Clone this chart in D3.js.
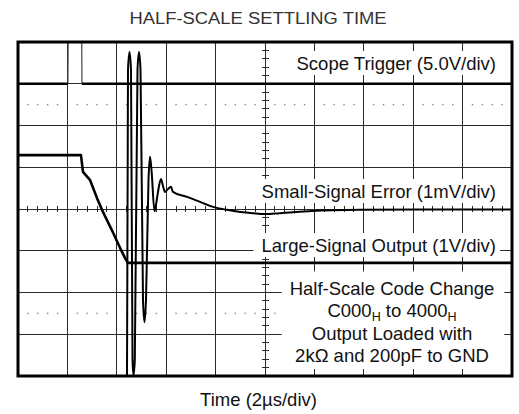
<!DOCTYPE html>
<head>
<meta charset="utf-8" />
<script src="https://cdn.jsdelivr.net/npm/d3@7/dist/d3.min.js"></script>
<style>
body { margin: 0; background: #fff; }
svg { display: block; }
text { font-family: "Liberation Sans", Arial, Helvetica, sans-serif; fill: #111; }
.grid line { stroke: #2a2a2a; stroke-width: 1px; shape-rendering: crispEdges; }
.trace { fill: none; stroke: #000; stroke-width: 2.6px; stroke-linejoin: round; }
</style>
</head>
<body>
<script>
// time in us (2us/div), level in scope divisions
var trigTime  = [0, 2.02, 2.03, 2.58, 2.59, 20];
var trigLevel = [3.0, 3.0, 4.0, 4.0, 3.0, 3.0];

var outTime  = [0, 2.55, 2.63, 2.92, 3.20, 3.44, 3.85, 4.13, 4.33, 4.45, 20];
var outLevel = [1.29, 1.29, 0.89, 0.69, 0.26, -0.07, -0.57, -0.93, -1.17, -1.29, -1.29];

var errTime  = [4.41, 4.453, 4.514, 4.575, 4.636, 4.676, 4.729, 4.838, 4.899, 4.960,
                5.061, 5.121, 5.182, 5.283, 5.344, 5.405, 5.526, 5.587, 5.668, 5.789,
                5.870, 5.951, 6.073, 6.194, 6.275, 6.842, 7.368, 7.895, 8.462, 9.008,
                9.514, 10.0, 10.6, 11.9, 13.85, 16.28, 20];
var errLevel = [-4.6, 3.33, 3.76, 3.33, -3.62, -3.98, -3.62, 3.33, 3.76, 3.33,
                -2.18, -2.71, -2.18, 0.69, 1.25, 0.93, -0.05, 0.10, 0.41, 0.72,
                0.55, 0.41, 0.48, 0.53, 0.41, 0.29, 0.17, 0.05, -0.02, -0.07,
                -0.10, -0.12, -0.10, -0.05, -0.02, -0.01, -0.01];

var traceLabels = ["Scope Trigger (5.0V/div)", "Small-Signal Error (1mV/div)", "Large-Signal Output (1V/div)"];
var noteLines = ["Half-Scale Code Change", "C000|H| to 4000|H", "Output Loaded with", "2k\u03A9 and 200pF to GND"];
var title = "HALF-SCALE SETTLING TIME";
var xTitle = "Time (2\u00B5s/div)";

var width = 519, height = 414;
var x = d3.scaleLinear().domain([0, 20]).range([18, 512]);
var y = d3.scaleLinear().domain([-4, 4]).range([376, 42]);

var svg = d3.select("body").append("svg")
	.attr("width", width)
	.attr("height", height);

svg.append("text")
	.attr("transform", "translate(258,24) scale(1,0.86)")
	.attr("text-anchor", "middle")
	.style("font-size", "18.4px")
	.style("fill", "#333")
	.text(title);

svg.append("text")
	.attr("x", 258.5).attr("y", 406)
	.attr("text-anchor", "middle")
	.style("font-size", "18.5px")
	.text(xTitle);

svg.append("defs").append("clipPath").attr("id", "plot")
	.append("rect")
	.attr("x", x(0)).attr("y", y(4))
	.attr("width", x(20) - x(0)).attr("height", y(-4) - y(4));

/* ------- GRID ------- */
var grid = svg.append("g").attr("class", "grid");
grid.selectAll("line.v")
	.data(d3.range(2, 20, 2))
	.enter().append("line")
	.attr("x1", function(d) { return x(d); }).attr("x2", function(d) { return x(d); })
	.attr("y1", y(4)).attr("y2", y(-4));
grid.selectAll("line.h")
	.data(d3.range(-3, 4, 1))
	.enter().append("line")
	.attr("x1", x(0)).attr("x2", x(20))
	.attr("y1", function(d) { return y(d); }).attr("y2", function(d) { return y(d); });

// minor ticks on the centre cross
var xMinor = d3.range(0, 20.01, 0.4).filter(function(d) { return Math.abs(d % 2) > 0.01 && Math.abs(d % 2 - 2) > 0.01; });
var yMinor = d3.range(-4, 4.01, 0.2).filter(function(d) { return Math.abs(d - Math.round(d)) > 0.01; });
grid.selectAll("line.xt")
	.data(xMinor)
	.enter().append("line")
	.attr("x1", function(d) { return x(d); }).attr("x2", function(d) { return x(d); })
	.attr("y1", y(0) - 3).attr("y2", y(0) + 3);
grid.selectAll("line.yt")
	.data(yMinor)
	.enter().append("line")
	.attr("x1", x(10) - 3.5).attr("x2", x(10) + 3.5)
	.attr("y1", function(d) { return y(d); }).attr("y2", function(d) { return y(d); });

// dotted rows at +/-2.5 div
var dots = [];
[2.5, -2.5].forEach(function(lv) {
	xMinor.forEach(function(t) { dots.push([t, lv]); });
});
svg.append("g").selectAll("rect")
	.data(dots)
	.enter().append("rect")
	.attr("x", function(d) { return x(d[0]) - 0.7; })
	.attr("y", function(d) { return y(d[1]) - 0.7; })
	.attr("width", 1.4).attr("height", 1.4)
	.style("fill", "#888");

/* ------- LABELS (white boxes hide the grid) ------- */
var labelY = [70, 198, 252];
var labels = svg.append("g");
traceLabels.forEach(function(s, i) {
	var g = labels.append("g");
	var bg = g.append("rect").style("fill", "#fff");
	var t = g.append("text")
		.attr("x", 496).attr("y", labelY[i])
		.attr("text-anchor", "end")
		.style("font-size", "18.5px")
		.text(s);
	var b = t.node().getBBox();
	bg.attr("x", b.x - 8).attr("y", b.y - 2).attr("width", b.width + 12).attr("height", b.height + 3);
});

var note = labels.append("g");
var noteBg = note.append("rect").style("fill", "#fff");
var noteText = note.append("text")
	.attr("text-anchor", "middle")
	.style("font-size", "18.5px");
noteLines.forEach(function(s, i) {
	var line = noteText.append("tspan").attr("x", 392).attr("y", 294.5 + i * 22.5);
	var parts = s.split("|");
	parts.forEach(function(p, j) {
		if (j % 2 == 1) {
			line.append("tspan").attr("dy", 4).style("font-size", "12.5px").text(p);
		} else if (j > 0) {
			line.append("tspan").attr("dy", -4).text(p);
		} else {
			line.append("tspan").text(p);
		}
	});
});
var nb = noteText.node().getBBox();
noteBg.attr("x", nb.x - 8).attr("y", nb.y - 6).attr("width", nb.width + 18).attr("height", nb.height + 9);

/* ------- TRACES ------- */
var traces = svg.append("g").attr("clip-path", "url(#plot)");
function zipTrace(ts, ls) {
	return ts.map(function(t, i) { return [t, ls[i]]; });
}
var lineLin = d3.line()
	.x(function(d) { return x(d[0]); })
	.y(function(d) { return y(d[1]); });
var lineSmooth = d3.line()
	.curve(d3.curveMonotoneX)
	.x(function(d) { return x(d[0]); })
	.y(function(d) { return y(d[1]); });

// trigger: fast pulse edges come out faint, the resting level is heavy
var trig = zipTrace(trigTime, trigLevel);
traces.append("path").attr("class", "trace")
	.style("stroke-width", "1.2px")
	.style("stroke", "#444")
	.attr("d", lineLin(trig));
traces.append("path").attr("class", "trace")
	.attr("d", lineLin.defined(function(d) { return d[1] == trigLevel[0]; })(trig));
lineLin.defined(function() { return true; });

traces.append("path").attr("class", "trace")
	.attr("d", lineLin(zipTrace(outTime, outLevel)));
traces.append("path").attr("class", "trace")
	.style("stroke-width", "2px")
	.attr("d", lineSmooth(zipTrace(errTime, errLevel)));

/* ------- FRAME ------- */
svg.append("rect")
	.attr("x", x(0)).attr("y", y(4))
	.attr("width", x(20) - x(0)).attr("height", y(-4) - y(4))
	.style("fill", "none")
	.style("stroke", "#000")
	.style("stroke-width", 3);
</script>
</body>
